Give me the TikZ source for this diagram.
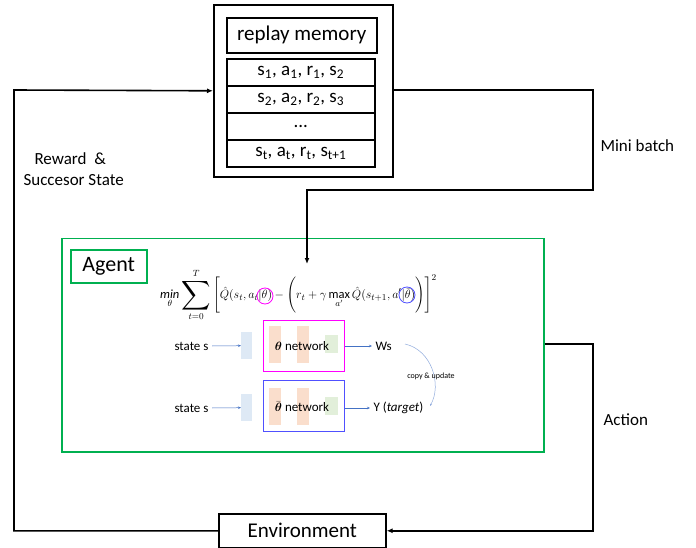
\documentclass[tikz,border=0pt]{standalone}
\usepackage{fontspec}
\setmainfont{Carlito}
\usepackage{amsmath}
\usepackage{graphicx}
\usetikzlibrary{arrows.meta}
\definecolor{agentgreen}{RGB}{0,176,80}
\definecolor{netmag}{RGB}{255,0,255}
\definecolor{netblue}{RGB}{80,80,255}
\definecolor{thinblue}{RGB}{68,114,196}
\definecolor{inblue}{RGB}{222,233,245}
\definecolor{barorange}{RGB}{250,222,204}
\definecolor{bargreen}{RGB}{226,239,218}
\newcommand{\bigsum}{\mathop{\vcenter{\hbox{\scalebox{1.7}{$\displaystyle\sum$}}}}\limits}
\begin{document}
\begin{tikzpicture}[x=1pt,y=-1pt,
  box/.style={draw=black, line width=1.6pt, inner sep=0pt, anchor=north west},
  conn/.style={draw=black, line width=1.6pt, -{Latex[length=6pt,width=5pt]}},
  rowtext/.style={font=\fontsize{19}{20}\selectfont},
  lbl/.style={font=\fontsize{17}{19}\selectfont, align=left},
  gbox/.style={draw=agentgreen, line width=1.5pt, inner sep=0pt, anchor=north west},
  thin/.style={draw=thinblue, line width=0.5pt, -{Stealth[length=3pt,width=2.5pt]}},
  inrect/.style={fill=inblue, inner sep=0pt, anchor=north west, minimum width=11, minimum height=27},
  obar/.style={fill=barorange, inner sep=0pt, anchor=north west, minimum width=12, minimum height=37},
  gbar/.style={fill=bargreen, inner sep=0pt, anchor=north west, minimum width=13, minimum height=18},
  small/.style={font=\fontsize{13}{15}\selectfont}
]
\useasboundingbox (0,0) rectangle (696,548);

% replay memory
\node[box, minimum width=179, minimum height=172] (replay) at (213,4) {};
\node[box, minimum width=150, minimum height=35, font=\fontsize{21}{22}\selectfont] (rm) at (226,17) {replay memory};
\node[box, minimum width=148, minimum height=27, rowtext] (r1) at (226,58) {s\textsubscript{1}, a\textsubscript{1}, r\textsubscript{1}, s\textsubscript{2}};
\node[box, minimum width=148, minimum height=27, rowtext] (r2) at (226,85) {s\textsubscript{2}, a\textsubscript{2}, r\textsubscript{2}, s\textsubscript{3}};
\node[box, minimum width=148, minimum height=27, rowtext] (r3) at (226,112) {...};
\node[box, minimum width=148, minimum height=27, rowtext] (r4) at (226,139) {s\textsubscript{t}, a\textsubscript{t}, r\textsubscript{t}, s\textsubscript{t+1}};

% environment
\node[box, minimum width=167, minimum height=34, font=\fontsize{21}{22}\selectfont] (env) at (218,513) {Environment};

% agent
\node[gbox, minimum width=482, minimum height=213] (agent) at (61,238) {};
\node[gbox, minimum width=76, minimum height=33, font=\fontsize{22}{23}\selectfont] (agentlbl) at (70,249) {Agent};

% formula
\node[font=\fontsize{12.5}{14}\selectfont, inner sep=0pt, anchor=west] (formula) at (160,295)
  {$\displaystyle\underset{\theta}{\mathit{min}}\bigsum_{t=0}^{T}\Bigg[\hat{Q}(s_t,a_t|\theta)-\Bigg(r_t+\gamma\max_{a'}\hat{Q}(s_{t+1},a'|\bar{\theta})\Bigg)\Bigg]^2$};
\draw[netmag, line width=0.8pt] (265,296) circle (8);
\draw[netblue, line width=0.8pt] (407,295) circle (8);

% networks
\node[inrect] (in1) at (241,332) {};
\node[inrect] (in2) at (241,394) {};
\node[obar] (o1a) at (269,326) {};
\node[obar] (o1b) at (297,326) {};
\node[gbar] (g1) at (325,335) {};
\node[obar] (o2a) at (269,388) {};
\node[obar] (o2b) at (297,388) {};
\node[gbar] (g2) at (325,397) {};
\node[draw=netmag, line width=1.3pt, inner sep=0pt, anchor=north west, minimum width=81, minimum height=51] (net1) at (263,320) {};
\node[draw=netblue, line width=1.3pt, inner sep=0pt, anchor=north west, minimum width=81, minimum height=51] (net2) at (263,380) {};
\node[small] (net1t) at (302,346) {$\boldsymbol{\theta}$ network};
\node[small] (net2t) at (302,407) {$\bar{\boldsymbol{\theta}}$ network};

\node[small, anchor=east] (st1) at (212,346) {state s};
\node[small, anchor=east] (st2) at (212,408) {state s};
\draw[thin] (st1.east) -- (in1.west);
\draw[thin] (st2.east) -- (in2.west);

\node[small, anchor=west] (ws) at (372,346) {Ws};
\node[small, anchor=west] (y) at (370,408) {Y (\textit{target})};
\draw[thin] (net1.east |- ws.west) -- (ws.west);
\draw[thin] (net2.east |- y.west) -- (y.west);

\coordinate (cs) at (405,344);
\coordinate (ce) at (430,406);
\draw[draw=thinblue!60, line width=0.5pt, -{Stealth[length=2.5pt,width=2pt]}] (cs) .. controls (432,350) and (442,385) .. (ce);
\node[font=\fontsize{8}{9}\selectfont] (cu) at (431,376) {copy \& update};

% connectors
\coordinate (tl) at (14,90);
\draw[conn] (env.west) -| (tl) -- (replay.west);
\coordinate (mr) at (593,90);
\coordinate (mb) at (593,190);
\coordinate (ma) at (307,190);
\coordinate (mt) at (307,264);
\draw[conn] (replay.east |- mr) -- (mr) -- (mb) -- (ma) -- (mt);
\coordinate (ar) at (593,344);
\draw[conn] (agent.east |- ar) -- (ar) |- (env.east);

\node[lbl, anchor=west] (mini) at (597,146) {Mini batch};
\node[lbl, anchor=west] (action) at (600,420) {Action};
\node[lbl, anchor=west] (rew1) at (31,159) {Reward \ \&};
\node[lbl, anchor=west] (rew2) at (20,180) {Succesor State};
\end{tikzpicture}
\end{document}
